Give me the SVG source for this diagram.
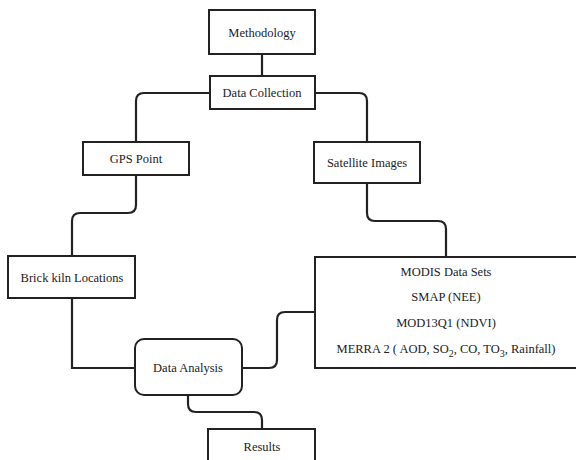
<svg xmlns="http://www.w3.org/2000/svg" width="576" height="460" viewBox="0 0 576 460">
<style>
.box{fill:#fff;stroke:#222;stroke-width:2}
.con{fill:none;stroke:#222;stroke-width:2.2}
.t{font-size:12.5px;fill:#222;text-anchor:middle;dominant-baseline:central}
</style>
<rect width="576" height="460" fill="#fff"/>
<g id="connectors">
<path class="con" d="M262,54 V76"/>
<path class="con" d="M210,93 H144 Q136,93 136,101 V142"/>
<path class="con" d="M315,93 H359 Q367,93 367,101 V142"/>
<path class="con" d="M136,175 V205 Q136,213 128,213 H80 Q72,213 72,221 V256"/>
<path class="con" d="M367,183 V213 Q367,221 375,221 H438 Q446,221 446,229 V257"/>
<path class="con" d="M72,298 V368 H135"/>
<path class="con" d="M242,368 H269 Q277,368 277,360 V320 Q277,312 285,312 H315"/>
<path class="con" d="M188,395 V404 Q188,412 196,412 H254 Q262,412 262,420 V429"/>
</g>
<g font-family="Liberation Serif">
<g id="methodology"><rect class="box" x="209" y="10" width="106" height="44"/><text class="t" font-family="Liberation Serif" x="262" y="33">Methodology</text></g>
<g id="data-collection"><rect class="box" x="210" y="76" width="105" height="33"/><text class="t" font-family="Liberation Serif" x="262" y="93">Data Collection</text></g>
<g id="gps-point"><rect class="box" x="83" y="142" width="106" height="33"/><text class="t" font-family="Liberation Serif" x="136" y="159">GPS Point</text></g>
<g id="satellite-images"><rect class="box" x="314" y="142" width="106" height="41"/><text class="t" font-family="Liberation Serif" x="367" y="163">Satellite Images</text></g>
<g id="brick-kiln"><rect class="box" x="8" y="256" width="127" height="42"/><text class="t" font-family="Liberation Serif" x="72" y="278">Brick kiln Locations</text></g>
<g id="modis"><rect class="box" x="315" y="257" width="262" height="111"/>
<text class="t" font-family="Liberation Serif" x="446" y="272">MODIS Data Sets</text>
<text class="t" font-family="Liberation Serif" x="446" y="297">SMAP (NEE)</text>
<text class="t" font-family="Liberation Serif" x="446" y="323">MOD13Q1 (NDVI)</text>
<text class="t" font-family="Liberation Serif" x="446" y="349">MERRA 2 ( AOD, SO<tspan dy="4" font-size="10">2</tspan><tspan dy="-4">, CO, TO</tspan><tspan dy="4" font-size="10">3</tspan><tspan dy="-4">, Rainfall)</tspan></text>
</g>
<g id="data-analysis"><rect class="box" x="135" y="339" width="107" height="56" rx="9"/><text class="t" font-family="Liberation Serif" x="188" y="368">Data Analysis</text></g>
<g id="results"><rect class="box" x="208" y="429" width="107" height="40"/><text class="t" font-family="Liberation Serif" x="262" y="447">Results</text></g>
</g>
</svg>
